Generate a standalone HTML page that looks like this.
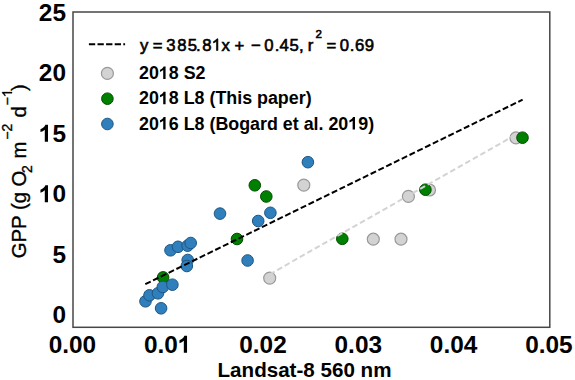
<!DOCTYPE html>
<html>
<head>
<meta charset="utf-8">
<style>
html,body{margin:0;padding:0;background:#fff;}
body{width:575px;height:380px;overflow:hidden;}
svg{display:block;}
text{font-family:"Liberation Sans",sans-serif;font-weight:bold;fill:#000;}
.tk{font-size:24.4px;}
.lg{font-size:17.85px;}
.eq{font-size:16.7px;font-weight:normal;stroke:#000;stroke-width:0.6px;}
.yl text{font-weight:normal;stroke:#000;stroke-width:0.35px;}
.h1,.h1r{fill:transparent;stroke:none;}
</style>
</head>
<body>
<svg width="575" height="380" viewBox="0 0 575 380">
<rect x="0" y="0" width="575" height="380" fill="#fff"/>

<!-- y tick labels -->
<g class="tk" text-anchor="end">
<text x="66" y="20.5">25</text>
<text x="66" y="81.1">20</text>
<text x="66" y="141.7"><tspan class="h1">1</tspan>5</text>
<text x="66" y="202.3"><tspan class="h1">1</tspan>0</text>
<text x="66" y="262.9">5</text>
<text x="66" y="323.3">0</text>
</g>

<!-- x tick labels -->
<g class="tk" text-anchor="middle">
<text x="72.4" y="352.8">0.00</text>
<text x="167.7" y="352.8">0.0<tspan class="h1">1</tspan></text>
<text x="263.0" y="352.8">0.02</text>
<text x="358.3" y="352.8">0.03</text>
<text x="453.6" y="352.8">0.04</text>
<text x="548.9" y="352.8">0.05</text>
</g>

<!-- x label -->
<text x="304.5" y="377.3" text-anchor="middle" style="font-size:20.6px">Landsat-8 560 nm</text>

<!-- y label -->
<g class="yl" transform="translate(26,0) rotate(-90)" style="font-size:20.3px">
<text x="-258.2">GPP (g O</text>
<text x="-173" y="5.8" style="font-size:14px">2</text>
<text x="-158.6">m</text>
<text x="-139.8" y="-14" style="font-size:14px">−2</text>
<text x="-117.6">d</text>
<text x="-105.5" y="-14" style="font-size:14px">−<tspan class="h1r">1</tspan></text>
<text x="-91">)</text>
<!-- ones --><path d="M763 0L583 0L583 1147Q518 1085 412 1023Q306 961 222 930L222 1104Q373 1175 486 1276Q599 1377 646 1430L763 1430Z" stroke="#000" stroke-width="51.2" transform="translate(-97.31,-14.00) scale(0.006836,-0.006836)"/><!-- /ones -->
</g>

<!-- gray points -->
<g fill="#d3d3d3" stroke="#999" stroke-width="1.2">
<circle cx="269.7" cy="278.1" r="6"/>
<circle cx="303.8" cy="185.1" r="6"/>
<circle cx="373.3" cy="239.2" r="6"/>
<circle cx="401.0" cy="239.2" r="6"/>
<circle cx="408.4" cy="196.4" r="6"/>
<circle cx="429.5" cy="190.0" r="6"/>
<circle cx="516.0" cy="137.9" r="6"/>
</g>

<!-- green points -->
<g fill="#008000" stroke="#004c00" stroke-width="1">
<circle cx="163.1" cy="277.4" r="5.8"/>
<circle cx="237.0" cy="239.0" r="5.8"/>
<circle cx="254.8" cy="185.3" r="5.8"/>
<circle cx="266.3" cy="196.5" r="5.8"/>
<circle cx="342.3" cy="238.8" r="5.8"/>
<circle cx="425.4" cy="189.7" r="5.8"/>
<circle cx="522.5" cy="137.7" r="5.8"/>
</g>

<!-- blue points -->
<g fill="#2f7fbc" stroke="#1f5582" stroke-width="1">
<circle cx="145.5" cy="301.3" r="5.8"/>
<circle cx="149.5" cy="295.3" r="5.8"/>
<circle cx="158.0" cy="293.3" r="5.8"/>
<circle cx="162.8" cy="287.0" r="5.8"/>
<circle cx="172.4" cy="284.7" r="5.8"/>
<circle cx="161.1" cy="308.3" r="5.8"/>
<circle cx="170.5" cy="250.3" r="5.8"/>
<circle cx="178.0" cy="246.8" r="5.8"/>
<circle cx="187.6" cy="245.7" r="5.8"/>
<circle cx="190.7" cy="243.0" r="5.8"/>
<circle cx="187.7" cy="260.0" r="5.8"/>
<circle cx="186.8" cy="266.0" r="5.8"/>
<circle cx="220.0" cy="213.6" r="5.8"/>
<circle cx="247.6" cy="260.5" r="5.8"/>
<circle cx="258.2" cy="221.0" r="5.8"/>
<circle cx="270.4" cy="212.8" r="5.8"/>
<circle cx="307.9" cy="162.2" r="5.8"/>
</g>

<!-- gray regression line -->
<line x1="269.7" y1="274.3" x2="516" y2="134.6" stroke="#d3d3d3" stroke-width="2" stroke-dasharray="5.6 3.05"/>

<!-- black regression line -->
<line x1="145.3" y1="284.2" x2="522.6" y2="99.7" stroke="#000" stroke-width="2" stroke-dasharray="6 2.65"/>

<!-- axes frame -->
<rect x="73" y="12" width="476.8" height="315.3" fill="none" stroke="#474747" stroke-width="1.5"/>

<!-- legend -->
<line x1="88.9" y1="44.3" x2="125.1" y2="44.3" stroke="#000" stroke-width="2" stroke-dasharray="6.3 2.3"/>
<text class="eq" y="50.5"><tspan x="140.0">y</tspan><tspan x="152.8">=</tspan><tspan x="166.2">3</tspan><tspan x="177.2">8</tspan><tspan x="187.7">5</tspan><tspan x="196.0">.</tspan><tspan x="202.3">8</tspan><tspan x="211.7" class="h1">1</tspan><tspan x="221.6">x</tspan><tspan x="234.6">+</tspan><tspan x="251.0">−</tspan><tspan x="264.3">0</tspan><tspan x="274.8">.</tspan><tspan x="279.6">4</tspan><tspan x="289.6">5</tspan><tspan x="299.1">,</tspan><tspan x="307.7">r</tspan><tspan x="326.5">=</tspan><tspan x="339.8">0</tspan><tspan x="349.8">.</tspan><tspan x="355.0">6</tspan><tspan x="364.7">9</tspan></text>
<text class="eq" x="315.4" y="38.4" style="font-size:11.5px">2</text>

<circle cx="107.4" cy="73.4" r="6" fill="#d3d3d3" stroke="#999" stroke-width="1.2"/>
<circle cx="107.4" cy="98.7" r="5.8" fill="#008000" stroke="#004c00" stroke-width="1"/>
<circle cx="107.4" cy="124" r="5.8" fill="#2f7fbc" stroke="#1f5582" stroke-width="1"/>
<g class="lg">
<text x="139" y="78.9">20<tspan class="h1">1</tspan>8 S2</text>
<text x="139" y="104.2">20<tspan class="h1">1</tspan>8 L8 (This paper)</text>
<text x="139" y="129.5">20<tspan class="h1">1</tspan>6 L8 (Bogard et al. 20<tspan class="h1">1</tspan>9)</text>
</g>
<!-- ones --><g fill="#000"><path d="M770 0L500 0L500 1010Q340 870 135 805L135 1055Q255 1095 380 1195Q505 1300 550 1430L770 1430Z" transform="translate(38.84,141.70) scale(0.011914,-0.011914)"/><path d="M770 0L500 0L500 1010Q340 870 135 805L135 1055Q255 1095 380 1195Q505 1300 550 1430L770 1430Z" transform="translate(38.84,202.30) scale(0.011914,-0.011914)"/><path d="M770 0L500 0L500 1010Q340 870 135 805L135 1055Q255 1095 380 1195Q505 1300 550 1430L770 1430Z" transform="translate(177.87,352.80) scale(0.011914,-0.011914)"/><path d="M763 0L583 0L583 1147Q518 1085 412 1023Q306 961 222 930L222 1104Q373 1175 486 1276Q599 1377 646 1430L763 1430Z" stroke="#000" stroke-width="73.6" transform="translate(211.70,50.50) scale(0.008154,-0.008154)"/><path d="M770 0L500 0L500 1010Q340 870 135 805L135 1055Q255 1095 380 1195Q505 1300 550 1430L770 1430Z" transform="translate(158.86,78.90) scale(0.008716,-0.008716)"/><path d="M770 0L500 0L500 1010Q340 870 135 805L135 1055Q255 1095 380 1195Q505 1300 550 1430L770 1430Z" transform="translate(158.86,104.20) scale(0.008716,-0.008716)"/><path d="M770 0L500 0L500 1010Q340 870 135 805L135 1055Q255 1095 380 1195Q505 1300 550 1430L770 1430Z" transform="translate(158.86,129.50) scale(0.008716,-0.008716)"/><path d="M770 0L500 0L500 1010Q340 870 135 805L135 1055Q255 1095 380 1195Q505 1300 550 1430L770 1430Z" transform="translate(348.28,129.50) scale(0.008716,-0.008716)"/></g><!-- /ones -->
</svg>
</body>
</html>
